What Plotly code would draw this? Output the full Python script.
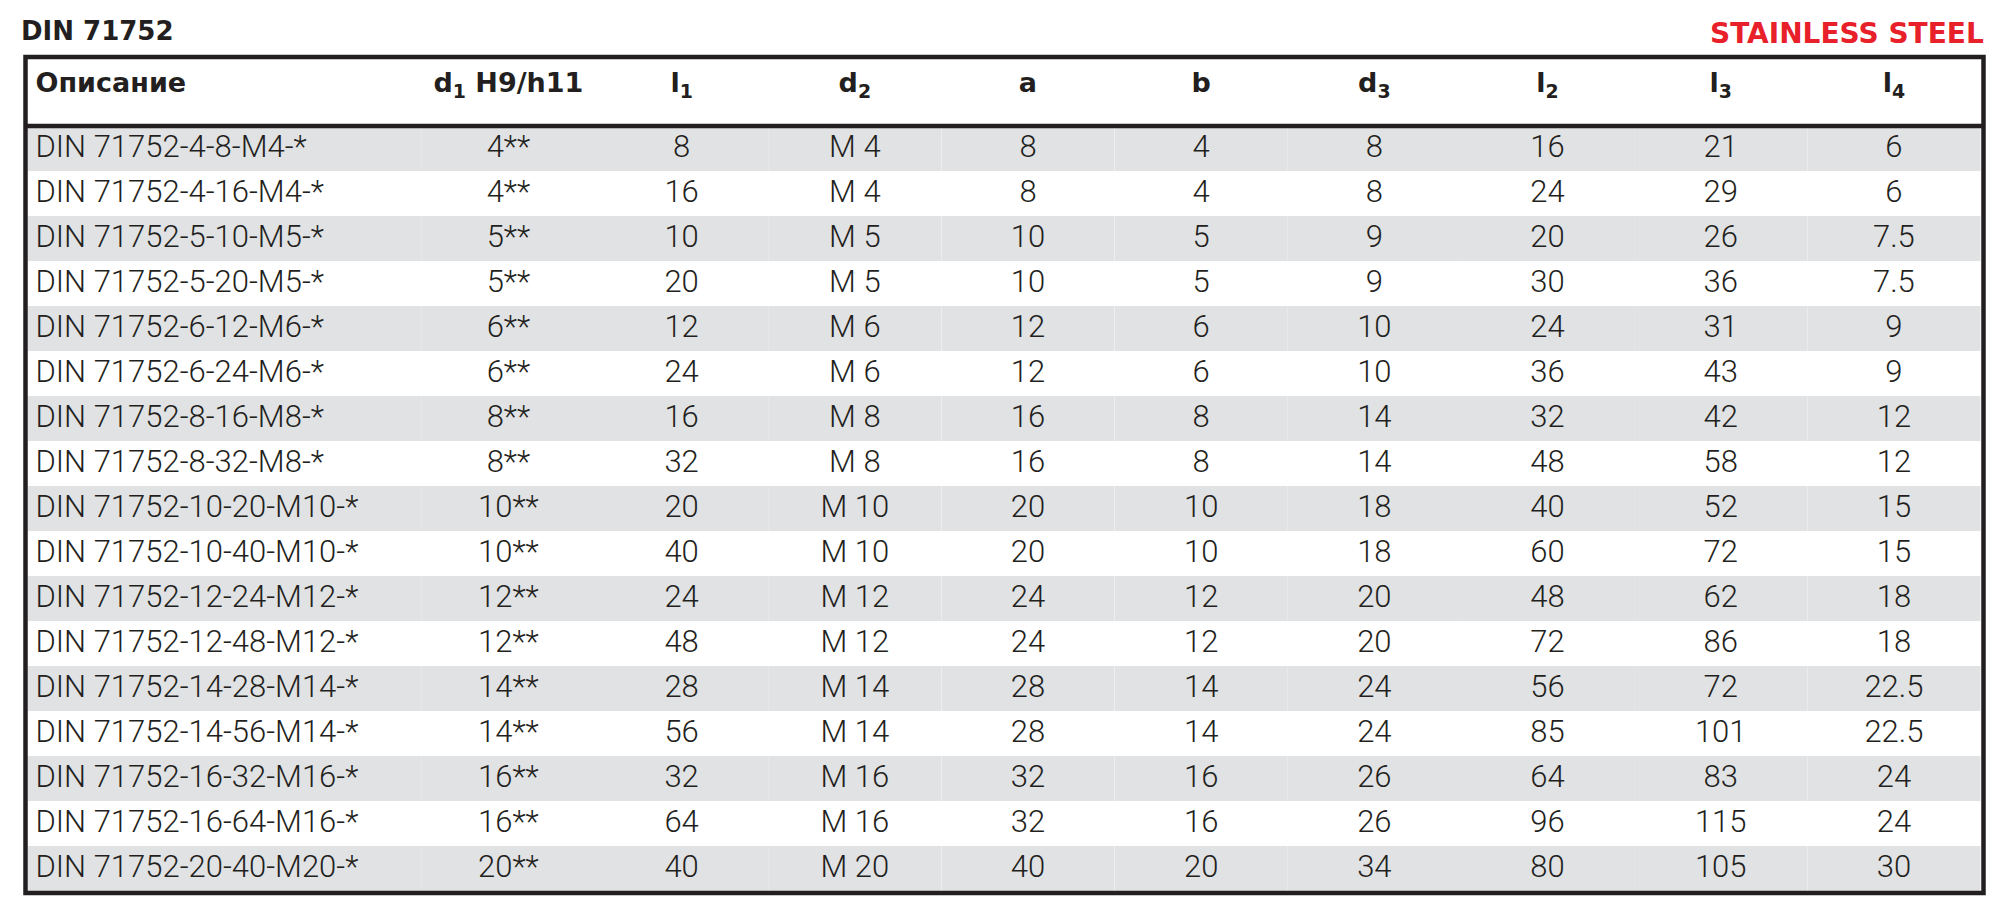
import plotly.graph_objects as go

# data

descriptions = [
    "DIN 71752-4-8-M4-*", "DIN 71752-4-16-M4-*", "DIN 71752-5-10-M5-*",
    "DIN 71752-5-20-M5-*", "DIN 71752-6-12-M6-*", "DIN 71752-6-24-M6-*",
    "DIN 71752-8-16-M8-*", "DIN 71752-8-32-M8-*", "DIN 71752-10-20-M10-*",
    "DIN 71752-10-40-M10-*", "DIN 71752-12-24-M12-*", "DIN 71752-12-48-M12-*",
    "DIN 71752-14-28-M14-*", "DIN 71752-14-56-M14-*", "DIN 71752-16-32-M16-*",
    "DIN 71752-16-64-M16-*", "DIN 71752-20-40-M20-*",
]
d1 = ["4**", "4**", "5**", "5**", "6**", "6**", "8**", "8**", "10**", "10**",
      "12**", "12**", "14**", "14**", "16**", "16**", "20**"]
l1 = [8, 16, 10, 20, 12, 24, 16, 32, 20, 40, 24, 48, 28, 56, 32, 64, 40]
d2 = ["M 4", "M 4", "M 5", "M 5", "M 6", "M 6", "M 8", "M 8", "M 10", "M 10",
      "M 12", "M 12", "M 14", "M 14", "M 16", "M 16", "M 20"]
a = [8, 8, 10, 10, 12, 12, 16, 16, 20, 20, 24, 24, 28, 28, 32, 32, 40]
b = [4, 4, 5, 5, 6, 6, 8, 8, 10, 10, 12, 12, 14, 14, 16, 16, 20]
d3 = [8, 8, 9, 9, 10, 10, 14, 14, 18, 18, 20, 20, 24, 24, 26, 26, 34]
l2 = [16, 24, 20, 30, 24, 36, 32, 48, 40, 60, 48, 72, 56, 85, 64, 96, 80]
l3 = [21, 29, 26, 36, 31, 43, 42, 58, 52, 72, 62, 86, 72, 101, 83, 115, 105]
l4 = [6, 6, 7.5, 7.5, 9, 9, 12, 12, 15, 15, 18, 18, 22.5, 22.5, 24, 24, 30]

# header labels: (base, small index, rest)
header_parts = [
    ("Описание", "", ""), ("d", "1", "\u00a0H9/h11"), ("l", "1", ""), ("d", "2", ""),
    ("a", "", ""), ("b", "", ""), ("d", "3", ""), ("l", "2", ""), ("l", "3", ""),
    ("l", "4", ""),
]

title_text = "DIN 71752"
material_text = "STAINLESS STEEL"

# styles

W, H = 1994, 906
INK = "#231f20"
GREY = "#e1e2e4"
RED = "#e8202a"


def px(x):
    return x / W


def py(y):
    return 1 - y / H


def fmt(v):
    return f"{v:g}"


header = []
for base, idx, rest in header_parts:
    s = base
    if idx:
        s += "<sub>" + idx + "</sub>"
    header.append("<b>" + s + rest + "</b>")

columns = [descriptions, d1, [fmt(v) for v in l1], d2, [fmt(v) for v in a],
           [fmt(v) for v in b], [fmt(v) for v in d3], [fmt(v) for v in l2],
           [fmt(v) for v in l3], [fmt(v) for v in l4]]

row_colors = [GREY if i % 2 == 0 else "white" for i in range(len(descriptions))]

fig = go.Figure()

fig.add_trace(go.Table(
    domain=dict(x=[px(19.5), px(1973.5)], y=[py(886), py(51)]),
    columnwidth=[395.5] + [173.7] * 9,
    header=dict(
        values=header,
        align=["left"] + ["center"] * 9,
        fill_color="white",
        line=dict(width=0, color="white"),
        height=67,
        font=dict(family="DejaVu Sans", size=27, color=INK),
    ),
    cells=dict(
        values=columns,
        align=["left"] + ["center"] * 9,
        fill_color=[row_colors] * 10,
        line=dict(width=0, color="white"),
        height=45,
        font=dict(family="Roboto", size=31, color=INK, weight=300),
    ),
))

# frame and header rule
fig.add_shape(type="rect", xref="paper", yref="paper",
              x0=px(17.5), x1=px(1975.5), y0=py(885), y1=py(49),
              line=dict(color=INK, width=4.5))
fig.add_shape(type="line", xref="paper", yref="paper",
              x0=px(17.5), x1=px(1975.5), y0=py(118), y1=py(118),
              line=dict(color=INK, width=4.5))

fig.add_annotation(text="<b>" + title_text + "</b>", xref="paper", yref="paper",
                   x=px(11), y=py(23), xanchor="left", yanchor="middle",
                   showarrow=False,
                   font=dict(family="DejaVu Sans", size=26, color=INK))
fig.add_annotation(text="<b>" + material_text + "</b>", xref="paper", yref="paper",
                   x=px(1978), y=py(25), xanchor="right", yanchor="middle",
                   showarrow=False,
                   font=dict(family="DejaVu Sans", size=28, color=RED))

fig.update_layout(
    width=W, height=H,
    margin=dict(l=0, r=0, t=0, b=0),
    paper_bgcolor="white",
    plot_bgcolor="white",
)

fig.write_html("out.html")
